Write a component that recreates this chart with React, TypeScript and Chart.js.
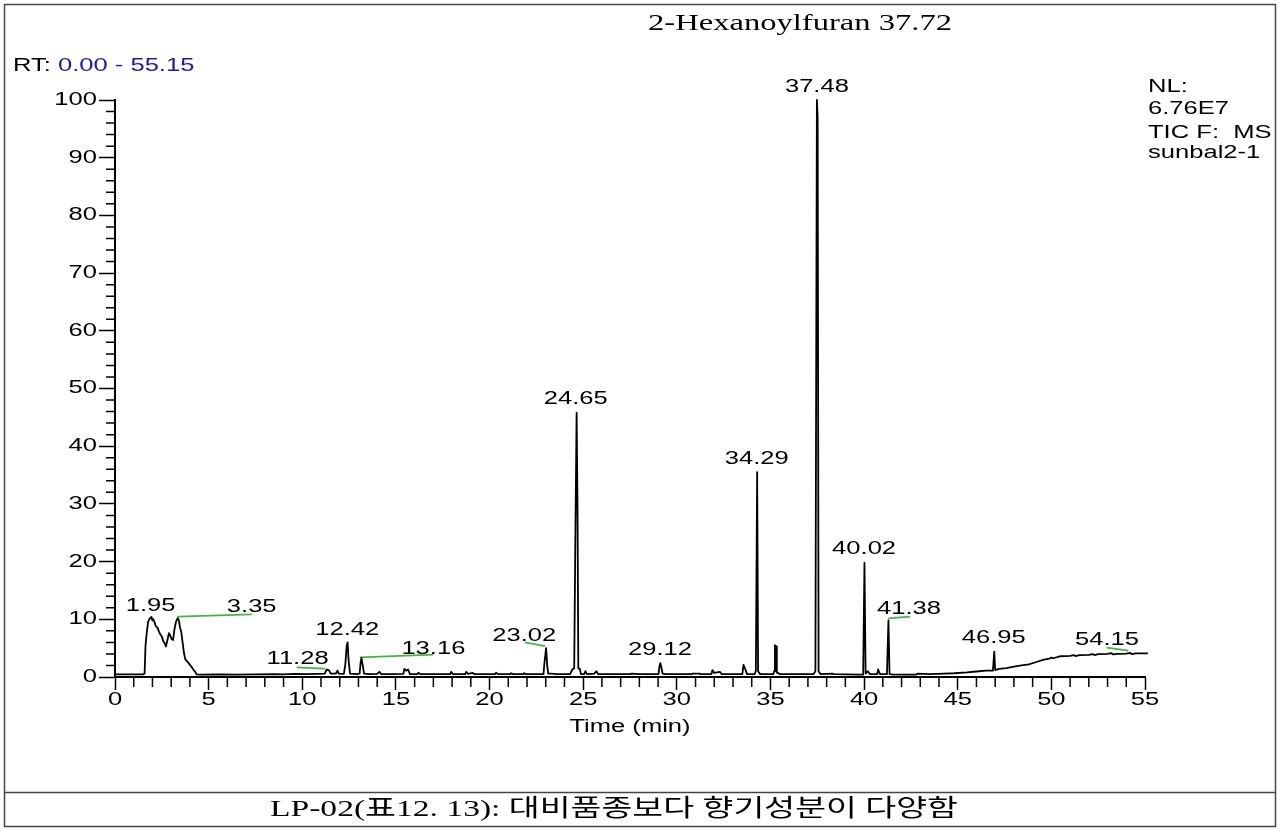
import React, { useEffect, useRef } from "react";
import { Chart, registerables } from "chart.js";

Chart.register(...registerables);

// Chromatogram trace: [retention time (min), relative abundance (%)]
const chromatogram: [number, number][] = [
  [0, 0.45], [1.0, 0.45], [1.5, 0.45], [1.58, 0.6], [1.63, 5.5], [1.7, 7.8], [1.77, 9.6],
  [1.83, 10.0], [1.9, 10.3], [1.95, 10.4], [2.0, 9.8], [2.05, 10.0], [2.12, 9.4], [2.18, 8.8],
  [2.26, 8.6], [2.34, 7.9], [2.42, 7.4], [2.5, 7.0], [2.58, 6.2], [2.66, 5.8], [2.72, 5.3],
  [2.8, 6.4], [2.88, 7.6], [2.95, 7.2], [3.02, 6.6], [3.1, 6.4], [3.18, 8.4], [3.26, 9.6],
  [3.35, 10.2], [3.41, 9.8], [3.47, 8.6], [3.54, 7.8], [3.61, 6.0], [3.68, 4.2], [3.75, 3.1],
  [3.83, 2.8], [3.91, 2.5], [4.0, 2.1], [4.1, 1.7], [4.2, 1.2], [4.28, 0.9], [4.36, 0.45],
  [4.6, 0.4], [5.5, 0.45], [6.5, 0.4], [7.5, 0.45], [8.5, 0.5], [9.0, 0.45], [9.6, 0.55],
  [10.2, 0.5], [10.8, 0.55], [11.2, 0.6], [11.3, 1.3], [11.42, 1.2], [11.52, 0.6], [11.8, 0.6],
  [11.88, 1.1], [11.95, 0.6], [12.22, 0.55], [12.3, 2.2], [12.37, 5.4], [12.42, 6.0], [12.47, 3.0],
  [12.55, 0.6], [12.9, 0.5], [13.06, 0.6], [13.12, 2.6], [13.16, 3.3], [13.22, 2.2], [13.3, 0.6],
  [13.6, 0.5], [14.0, 0.55], [14.12, 0.9], [14.22, 0.5], [14.8, 0.5], [15.4, 0.55], [15.45, 1.4],
  [15.55, 1.1], [15.65, 1.3], [15.75, 0.5], [16.15, 0.5], [16.2, 0.75], [16.3, 0.5], [17.0, 0.5],
  [17.9, 0.5], [17.95, 0.9], [18.05, 0.5], [18.7, 0.5], [18.75, 0.9], [18.85, 0.55], [19.1, 0.7],
  [19.2, 0.5], [20.3, 0.5], [20.35, 0.75], [20.45, 0.5], [21.1, 0.5], [21.15, 0.65], [21.25, 0.5],
  [21.8, 0.5], [21.85, 0.65], [21.95, 0.5], [22.88, 0.5], [22.93, 2.4], [23.02, 5.0], [23.08, 2.0],
  [23.13, 0.6], [23.3, 0.6], [23.6, 0.5], [24.3, 0.5], [24.42, 1.3], [24.52, 1.5], [24.58, 23.5],
  [24.65, 45.8], [24.7, 28.0], [24.74, 1.5], [24.82, 1.4], [24.88, 0.5], [25.05, 0.5], [25.12, 1.0],
  [25.2, 0.5], [25.6, 0.6], [25.7, 1.0], [25.8, 0.5], [26.1, 0.5], [27.5, 0.5], [27.6, 0.6],
  [28.0, 0.5], [29.02, 0.5], [29.08, 2.0], [29.12, 2.4], [29.18, 1.6], [29.24, 0.6], [29.4, 0.5],
  [30.8, 0.5], [30.85, 0.6], [31.2, 0.6], [31.25, 0.5], [31.85, 0.5], [31.9, 1.2], [32.0, 0.7],
  [32.3, 0.9], [32.4, 0.5], [33.5, 0.5], [33.56, 2.1], [33.65, 1.4], [33.75, 0.5], [34.15, 0.5],
  [34.22, 1.0], [34.29, 35.5], [34.34, 1.0], [34.45, 0.5], [35.15, 0.5], [35.2, 1.0], [35.24, 5.5],
  [35.3, 5.3], [35.34, 0.8], [35.5, 0.5], [36.0, 0.5], [36.6, 0.5], [37.3, 0.5], [37.4, 1.0],
  [37.48, 100], [37.52, 97], [37.57, 1.0], [37.67, 0.5], [38.3, 0.6], [38.4, 0.5], [39.7, 0.4],
  [39.95, 0.4], [40.02, 19.8], [40.08, 0.6], [40.2, 1.0], [40.3, 0.5], [40.7, 0.5], [40.75, 1.3],
  [40.85, 0.5], [41.22, 0.5], [41.3, 9.8], [41.36, 0.5], [41.6, 0.4], [42.8, 0.4], [42.85, 0.6],
  [43.5, 0.5], [44.3, 0.6], [44.8, 0.65], [45.5, 0.8], [46.0, 0.95], [46.5, 1.1], [46.88, 1.1],
  [46.95, 4.4], [47.0, 1.2], [47.2, 1.4], [47.6, 1.55], [48.0, 1.8], [48.4, 2.0], [48.8, 2.2],
  [49.2, 2.6], [49.6, 3.0], [49.9, 3.2], [50.0, 3.35], [50.1, 3.25], [50.5, 3.6], [51.0, 3.65],
  [51.2, 3.8], [51.3, 3.62], [51.5, 3.8], [52.0, 3.85], [52.2, 3.98], [52.3, 3.8], [52.5, 3.95],
  [53.0, 4.0], [53.2, 4.12], [53.3, 3.92], [53.5, 4.0], [54.0, 4.05], [54.2, 4.18], [54.3, 3.95],
  [54.5, 4.1], [55.15, 4.1],
];

// Peak annotations
const peakLabels = ["1.95", "3.35", "11.28", "12.42", "13.16", "23.02", "24.65", "29.12", "34.29", "37.48", "40.02", "41.38", "46.95", "54.15"];
const labelTimes = [1.9, 7.3, 9.75, 12.4, 17.0, 21.85, 24.6, 29.1, 34.27, 37.48, 40.0, 42.4, 46.92, 52.97];
const labelLevels = [12.3, 12.1, 3.1, 8.2, 4.8, 7.1, 48.2, 4.7, 37.8, 102.2, 22.2, 11.7, 6.8, 6.4];

// Green label-link markers
const markerStartTimes = [3.33, 9.7, 13.08, 21.89, 41.29, 52.95];
const markerStartLevels = [10.45, 1.68, 3.41, 6.0, 10.17, 5.08];
const markerEndTimes = [7.3, 11.21, 17.0, 22.96, 42.45, 54.11];
const markerEndLevels = [10.86, 1.44, 3.87, 5.37, 10.45, 4.56];

const titleText = "2-Hexanoylfuran 37.72";
const rangePrefix = "RT: ";
const rangeValue = "0.00 - 55.15";
const infoLines = ["NL:", "6.76E7", "TIC F:  MS", "sunbal2-1"];
const xAxisTitle = "Time (min)";
const captionText = "LP-02(표12. 13): 대비품종보다 향기성분이 다양함";

const SANS = '18px "Liberation Sans", Arial, sans-serif';
const SX = 1.42;

function drawText(
  ctx: CanvasRenderingContext2D,
  text: string,
  x: number,
  y: number,
  align: CanvasTextAlign,
  sx: number,
  font: string,
  color: string
) {
  ctx.save();
  ctx.font = font;
  ctx.fillStyle = color;
  ctx.textAlign = align;
  ctx.textBaseline = "middle";
  ctx.translate(x, y);
  ctx.scale(sx, 1);
  ctx.fillText(text, 0, 0);
  ctx.restore();
}

function drawFitted(ctx: CanvasRenderingContext2D, text: string, cx: number, cy: number, width: number, font: string) {
  ctx.save();
  ctx.font = font;
  const w = ctx.measureText(text).width;
  ctx.restore();
  drawText(ctx, text, cx, cy, "center", width / w, font, "#000");
}

const decorPlugin = {
  id: "decor",
  afterDraw(chart: any) {
    const { ctx, chartArea } = chart;
    const xs = chart.scales.x;
    const ys = chart.scales.y;
    ctx.save();
    // frame
    ctx.strokeStyle = "#444";
    ctx.lineWidth = 1.5;
    ctx.strokeRect(4.5, 4.5, 1271, 822);
    ctx.beginPath();
    ctx.moveTo(4.5, 792.5);
    ctx.lineTo(1275.5, 792.5);
    ctx.stroke();

    // minor ticks
    ctx.strokeStyle = "#000";
    ctx.lineWidth = 1.5;
    ctx.beginPath();
    for (let t = 1; t < 55; t++) {
      if (t % 5 === 0) continue;
      const px = xs.getPixelForValue(t);
      ctx.moveTo(px, chartArea.bottom);
      ctx.lineTo(px, chartArea.bottom + 10);
    }
    for (let v = 2; v < 100; v += 2) {
      if (v % 10 === 0) continue;
      const py = ys.getPixelForValue(v);
      ctx.moveTo(chartArea.left - 9, py);
      ctx.lineTo(chartArea.left, py);
    }
    ctx.stroke();
    ctx.restore();

    // tick labels
    xs.ticks.forEach((tk: any) => {
      drawText(ctx, String(tk.value), xs.getPixelForValue(tk.value), chartArea.bottom + 23, "center", SX, SANS, "#000");
    });
    ys.ticks.forEach((tk: any) => {
      drawText(ctx, String(tk.value), chartArea.left - 18, ys.getPixelForValue(tk.value), "right", SX, SANS, "#000");
    });
    drawText(ctx, xAxisTitle, (chartArea.left + chartArea.right) / 2, chartArea.bottom + 50, "center", SX, SANS, "#000");

    // peak labels
    peakLabels.forEach((lab, i) => {
      drawText(ctx, lab, xs.getPixelForValue(labelTimes[i]), ys.getPixelForValue(labelLevels[i]), "center", SX, SANS, "#000");
    });

    // header texts
    drawFitted(ctx, titleText, 800, 24, 304, '24px "Liberation Serif", "DejaVu Serif", serif');
    ctx.save();
    ctx.font = SANS;
    const pw = ctx.measureText(rangePrefix).width * SX;
    ctx.restore();
    drawText(ctx, rangePrefix, 13, 66, "left", SX, SANS, "#000");
    drawText(ctx, rangeValue, 13 + pw, 66, "left", SX, SANS, "#1a1aa6");
    const infoY = [87, 109, 133, 153];
    infoLines.forEach((s, i) => drawText(ctx, s, 1148, infoY[i], "left", SX, SANS, "#000"));

    // caption
    drawFitted(ctx, captionText, 614, 810, 688, '24px "Liberation Serif", "Noto Sans CJK KR", serif');
  },
};

export default function App() {
  const canvasRef = useRef<HTMLCanvasElement | null>(null);

  useEffect(() => {
    const canvas = canvasRef.current;
    if (!canvas) return;
    const markerSets = markerStartTimes.map((t, i) => ({
      type: "line" as const,
      data: [
        { x: t, y: markerStartLevels[i] },
        { x: markerEndTimes[i], y: markerEndLevels[i] },
      ],
      borderColor: "#3fb83f",
      borderWidth: 1.8,
      pointRadius: 0,
      clip: false as any,
    }));
    const chart = new Chart(canvas, {
      type: "line",
      data: {
        datasets: [
          {
            data: chromatogram.map(([x, y]) => ({ x, y })),
            borderColor: "#000",
            borderWidth: 1.8,
            pointRadius: 0,
            tension: 0,
            borderJoinStyle: "round",
            clip: false as any,
          },
          ...markerSets,
        ],
      },
      options: {
        responsive: false,
        animation: false,
        devicePixelRatio: 1,
        events: [],
        layout: { padding: { left: 99, right: 141, top: 100, bottom: 141 } },
        plugins: { legend: { display: false }, tooltip: { enabled: false }, title: { display: false } },
        scales: {
          x: {
            type: "linear",
            min: 0,
            max: 55,
            grid: { display: true, drawOnChartArea: false, drawTicks: true, tickLength: 13, tickColor: "#000", tickWidth: 1.5 },
            border: { display: true, color: "#000", width: 2 },
            ticks: { display: false, stepSize: 5 },
            afterFit: (s: any) => {
              s.height = 13;
            },
          },
          y: {
            type: "linear",
            min: 0,
            max: 100,
            grid: { display: true, drawOnChartArea: false, drawTicks: true, tickLength: 16, tickColor: "#000", tickWidth: 1.5 },
            border: { display: true, color: "#000", width: 2 },
            ticks: { display: false, stepSize: 10 },
            afterFit: (s: any) => {
              s.width = 16;
            },
          },
        },
      },
      plugins: [decorPlugin],
    } as any);
    return () => chart.destroy();
  }, []);

  return (
    <div style={{ position: "absolute", left: 0, top: 0, width: 1286, height: 831, background: "#fff" }}>
      <canvas ref={canvasRef} width={1286} height={831} style={{ display: "block" }} />
    </div>
  );
}
